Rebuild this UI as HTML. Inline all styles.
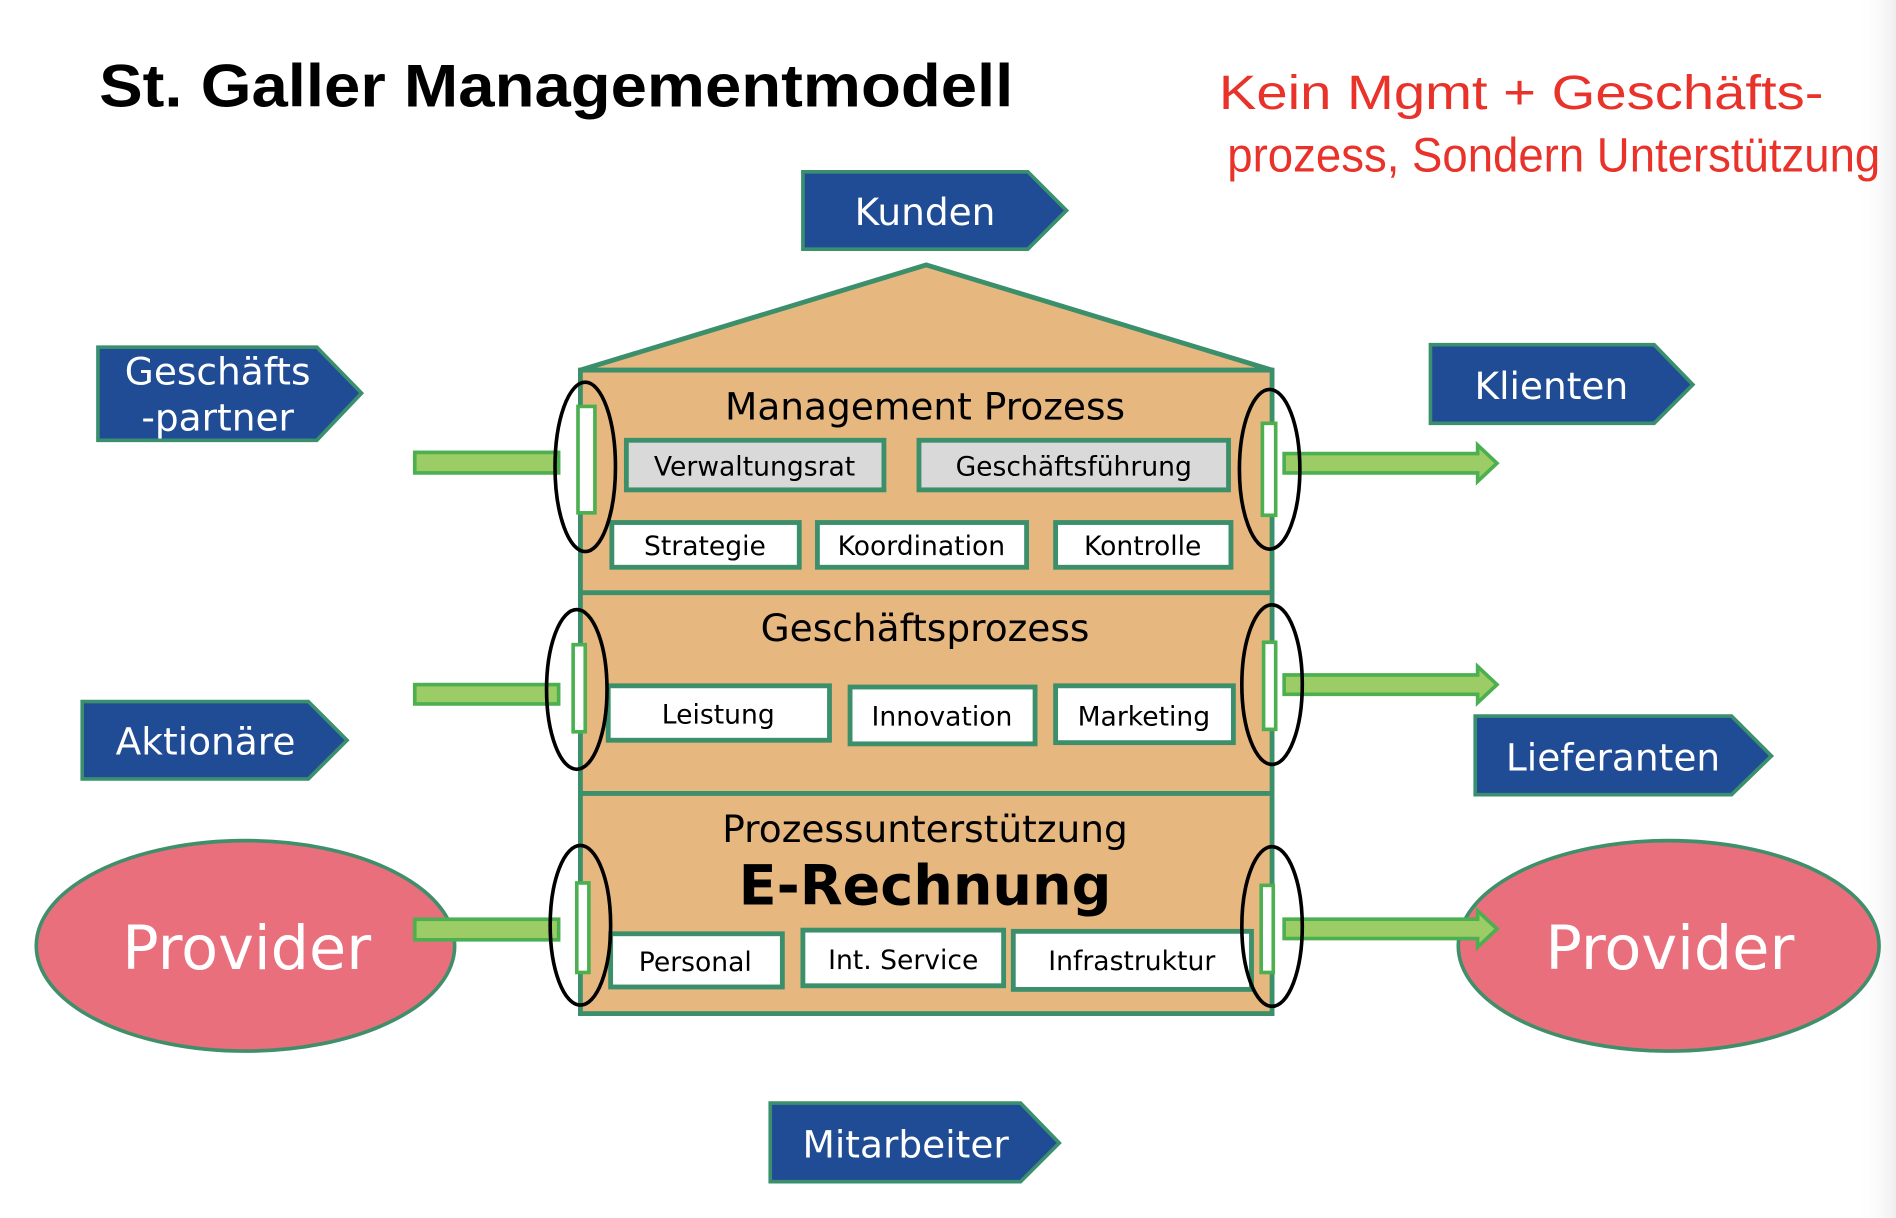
<!DOCTYPE html>
<html><head><meta charset="utf-8"><style>html,body{margin:0;padding:0;background:#fff;overflow:hidden}svg{display:block}</style></head><body>
<svg width="1896" height="1218" viewBox="0 0 1568 1007" preserveAspectRatio="none" xmlns="http://www.w3.org/2000/svg" font-family="'DejaVu Sans','Liberation Sans',sans-serif">
<defs><linearGradient id="sh" x1="0" x2="1"><stop offset="0" stop-color="#fff" stop-opacity="0"/><stop offset="1" stop-color="#eee"/></linearGradient></defs>
<rect x="1535" y="0" width="33" height="1007" fill="url(#sh)"/>
<text x="82" y="88" font-family="'Liberation Sans',sans-serif" font-weight="bold" font-size="50" fill="#000" textLength="756" lengthAdjust="spacingAndGlyphs">St. Galler Managementmodell</text>
<g fill="#e8322a" font-family="'Liberation Sans',sans-serif" font-size="40">
<text x="1008" y="90" textLength="500" lengthAdjust="spacingAndGlyphs">Kein  Mgmt + Geschäfts-</text>
<text x="1015" y="142" textLength="540" lengthAdjust="spacingAndGlyphs">prozess, Sondern   Unterstützung</text>
</g>
<g stroke="#3a8f6e" stroke-width="3" fill="#1f4c94">
<polygon points="664,142 850,142 882,174 850,206 664,206"/>
<polygon points="81,287 262,287 299,325 262,364 81,364"/>
<polygon points="1183,285 1368,285 1400,318 1368,350 1183,350"/>
<polygon points="68,580 255,580 287,612 255,644 68,644"/>
<polygon points="1220,592 1432,592 1465,625 1432,657 1220,657"/>
<polygon points="637,912 844,912 876,945 844,977 637,977"/>
</g>
<g fill="#fff" font-size="31" text-anchor="middle">
<text x="765" y="186">Kunden</text>
<text x="180" y="318">Geschäfts</text>
<text x="180" y="356">-partner</text>
<text x="1283" y="330">Klienten</text>
<text x="170" y="624">Aktionäre</text>
<text x="1334" y="637">Lieferanten</text>
<text x="749" y="957">Mitarbeiter</text>
</g>
<polygon points="480,306 766,219 1052,306" fill="#e6b87f" stroke="#3b8f6b" stroke-width="4"/>
<rect x="480" y="306" width="572" height="532" fill="#e6b87f" stroke="#3b8f6b" stroke-width="4"/>
<line x1="480" y1="490" x2="1052" y2="490" stroke="#3b8f6b" stroke-width="4"/>
<line x1="480" y1="656" x2="1052" y2="656" stroke="#3b8f6b" stroke-width="4"/>
<g font-size="31" text-anchor="middle" fill="#000">
<text x="765" y="347">Management Prozess</text>
<text x="765" y="530">Geschäftsprozess</text>
<text x="765" y="696">Prozessunterstützung</text>
<text x="765" y="748" font-weight="bold" font-size="46">E-Rechnung</text>
</g>
<g stroke="#3b8f6b" stroke-width="4">
<rect x="518" y="364" width="213" height="41" fill="#d9d9d9"/>
<rect x="760" y="364" width="256" height="41" fill="#d9d9d9"/>
<rect x="506" y="432" width="155" height="37" fill="#fff"/>
<rect x="676" y="432" width="173" height="37" fill="#fff"/>
<rect x="873" y="432" width="145" height="37" fill="#fff"/>
<rect x="503" y="567" width="183" height="45" fill="#fff"/>
<rect x="703" y="568" width="153" height="47" fill="#fff"/>
<rect x="873" y="567" width="147" height="47" fill="#fff"/>
<rect x="505" y="772" width="142" height="44" fill="#fff"/>
<rect x="664" y="769" width="166" height="46" fill="#fff"/>
<rect x="838" y="770" width="197" height="48" fill="#fff"/>
</g>
<g font-size="22" text-anchor="middle" fill="#000">
<text x="624" y="393">Verwaltungsrat</text>
<text x="888" y="393">Geschäftsführung</text>
<text x="583" y="459">Strategie</text>
<text x="762" y="459">Koordination</text>
<text x="945" y="459">Kontrolle</text>
<text x="594" y="598">Leistung</text>
<text x="779" y="600">Innovation</text>
<text x="946" y="600">Marketing</text>
<text x="575" y="803">Personal</text>
<text x="747" y="801">Int. Service</text>
<text x="936" y="802">Infrastruktur</text>
</g>
<g fill="#e86f7b" stroke="#3f8f6b" stroke-width="3">
<ellipse cx="203" cy="782" rx="173" ry="87"/>
<ellipse cx="1380" cy="782" rx="174" ry="87"/>
</g>
<g fill="#fff" font-size="50" text-anchor="middle">
<text x="204" y="801">Provider</text>
<text x="1381" y="801">Provider</text>
</g>
<g fill="#9ccc65" stroke="#4caf50" stroke-width="3">
<rect x="343" y="374" width="119" height="17"/>
<rect x="343" y="566" width="119" height="16"/>
<rect x="343" y="760" width="119" height="17"/>
<polygon points="1062,375 1222,375 1222,368 1238,383 1222,398 1222,391 1062,391"/>
<polygon points="1062,558 1222,558 1222,551 1238,566 1222,581 1222,574 1062,574"/>
<polygon points="1062,760 1222,760 1222,753 1238,768 1222,783 1222,776 1062,776"/>
</g>
<g fill="#fff" stroke="#4caf50" stroke-width="3">
<rect x="478" y="336" width="14" height="88"/>
<rect x="474" y="533" width="10" height="72"/>
<rect x="477" y="730" width="10" height="74"/>
<rect x="1044" y="350" width="11" height="76"/>
<rect x="1045" y="531" width="10" height="72"/>
<rect x="1043" y="732" width="10" height="72"/>
</g>
<g fill="none" stroke="#000" stroke-width="3">
<ellipse cx="484" cy="386" rx="25" ry="70"/>
<ellipse cx="477" cy="570" rx="25" ry="66"/>
<ellipse cx="480" cy="765" rx="25" ry="66"/>
<ellipse cx="1050" cy="388" rx="25" ry="66"/>
<ellipse cx="1052" cy="566" rx="25" ry="66"/>
<ellipse cx="1052" cy="766" rx="25" ry="66"/>
</g>
</svg>
</body></html>
